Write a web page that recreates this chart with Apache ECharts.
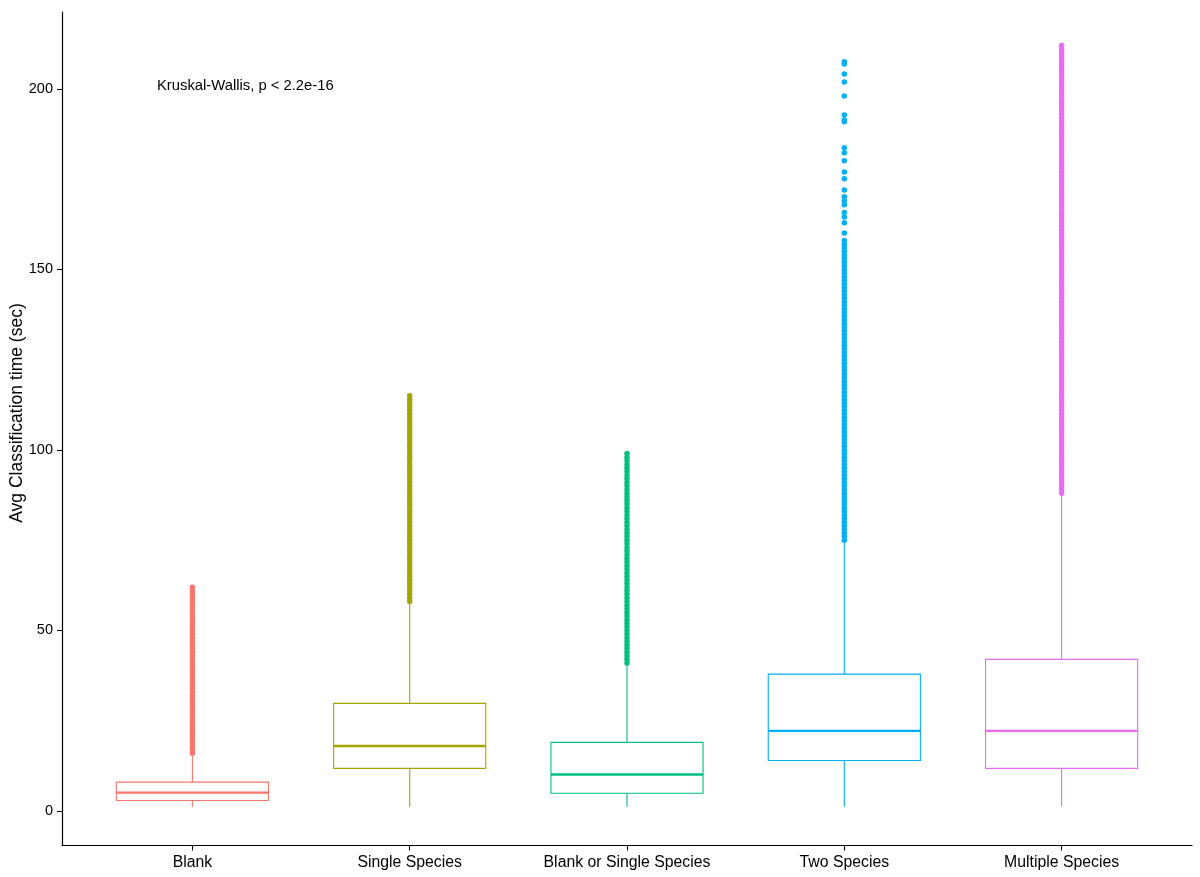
<!DOCTYPE html>
<html>
<head>
<meta charset="utf-8">
<script src="https://cdn.jsdelivr.net/npm/echarts@6/dist/echarts.min.js"></script>
<style>
html, body { margin: 0; padding: 0; background: #fff; }
#chart { width: 1200px; height: 877px; }
</style>
</head>
<body>
<div id="chart"></div>
<script>
// categories and box statistics
const categories = ['Blank', 'Single Species', 'Blank or Single Species', 'Two Species', 'Multiple Species'];
const lowerWhisker = [1.2, 1.2, 1.2, 1.2, 1.2];
const q1 = [2.9, 11.8, 4.9, 14.0, 11.8];
const median = [5.1, 18.0, 10.1, 22.2, 22.2];
const q3 = [8.0, 29.8, 19.0, 37.9, 42.0];
const upperWhisker = [15.2, 57.6, 40.5, 74.5, 87.5];
const yTicks = [0, 50, 100, 150, 200];
const colors = ['#F8766D', '#A3A500', '#00BF7D', '#00B0F6', '#E76BF3'];

// outliers
const outBlank = [16, 17, 18, 19, 20, 21, 22, 23, 24, 25, 26, 27, 28, 29, 30, 31, 32, 33, 34, 35,
  36, 37, 38, 39, 40, 41, 42, 43, 44, 45, 46, 47, 48, 49, 50, 51, 52, 53, 54, 55,
  56, 57, 58, 59, 60, 61, 62];
const outSingle = [58, 59, 60, 61, 62, 63, 64, 65, 66, 67, 68, 69, 70, 71, 72, 73, 74, 75, 76, 77,
  78, 79, 80, 81, 82, 83, 84, 85, 86, 87, 88, 89, 90, 91, 92, 93, 94, 95, 96, 97,
  98, 99, 100, 101, 102, 103, 104, 105, 106, 107, 108, 109, 110, 111, 112, 113, 114, 115];
const outBlankOrSingle = [41, 42, 43, 44, 45, 46, 47, 48, 49, 50, 51, 52, 53, 54, 55, 56, 57, 58, 59, 60,
  61, 62, 63, 64, 65, 66, 67, 68, 69, 70, 71, 72, 73, 74, 75, 76, 77, 78, 79, 80,
  81, 82, 83, 84, 85, 86, 87, 88, 89, 90, 91, 92, 93, 94, 95, 96, 97, 98, 99];
const outTwo = [75, 76, 77, 78, 79, 80, 81, 82, 83, 84, 85, 86, 87, 88, 89, 90, 91, 92, 93, 94,
  95, 96, 97, 98, 99, 100, 101, 102, 103, 104, 105, 106, 107, 108, 109, 110, 111, 112, 113, 114,
  115, 116, 117, 118, 119, 120, 121, 122, 123, 124, 125, 126, 127, 128, 129, 130, 131, 132, 133, 134,
  135, 136, 137, 138, 139, 140, 141, 142, 143, 144, 145, 146, 147, 148, 149, 150, 151, 152, 153, 154,
  155, 156, 157, 158, 160.1, 162.9, 164.5, 165.8, 167.9, 169.0, 170.1, 172.0, 175.1, 177.0,
  180.1, 182.3, 183.7, 190.9, 191.4, 192.8, 198.0, 201.9, 204.1, 206.9, 207.5];
const outMultiple = [88, 89, 90, 91, 92, 93, 94, 95, 96, 97, 98, 99, 100, 101, 102, 103, 104, 105, 106, 107,
  108, 109, 110, 111, 112, 113, 114, 115, 116, 117, 118, 119, 120, 121, 122, 123, 124, 125, 126, 127,
  128, 129, 130, 131, 132, 133, 134, 135, 136, 137, 138, 139, 140, 141, 142, 143, 144, 145, 146, 147,
  148, 149, 150, 151, 152, 153, 154, 155, 156, 157, 158, 159, 160, 161, 162, 163, 164, 165, 166, 167,
  168, 169, 170, 171, 172, 173, 174, 175, 176, 177, 178, 179, 180, 181, 182, 183, 184, 185, 186, 187,
  188, 189, 190, 191, 192, 193, 194, 195, 196, 197, 198, 199, 200, 201, 202, 203, 204, 205, 206, 207,
  208, 209, 210, 211, 212];
const outliers = [outBlank, outSingle, outBlankOrSingle, outTwo, outMultiple];

const FONT = 'Liberation Sans, Arial, sans-serif';
const boxWidth = 0.7;

const boxData = categories.map((c, i) => [i + 1, lowerWhisker[i], q1[i], median[i], q3[i], upperWhisker[i]]);

const renderBox = (params, api) => {
    const x = api.value(0);
    const lo = api.coord([x, api.value(1)]);
    const b = api.coord([x, api.value(2)]);
    const md = api.coord([x, api.value(3)]);
    const t = api.coord([x, api.value(4)]);
    const hi = api.coord([x, api.value(5)]);
    const left = api.coord([x - boxWidth / 2, 0])[0];
    const right = api.coord([x + boxWidth / 2, 0])[0];
    const c = colors[params.dataIndex];
    return {
        type: 'group',
        children: [
            {type: 'line', shape: {x1: lo[0], y1: lo[1], x2: b[0], y2: b[1]}, style: {stroke: c, lineWidth: 1.1}},
            {type: 'line', shape: {x1: t[0], y1: t[1], x2: hi[0], y2: hi[1]}, style: {stroke: c, lineWidth: 1.1}},
            {type: 'rect', shape: {x: left, y: t[1], width: right - left, height: b[1] - t[1]},
                style: {fill: '#fff', stroke: c, lineWidth: 1.1}},
            {type: 'line', shape: {x1: left, y1: md[1], x2: right, y2: md[1]}, style: {stroke: c, lineWidth: 2.3}}
        ]
    };
};

const pointSeries = outliers.map((vals, i) => ({
    type: 'scatter',
    symbol: 'circle',
    symbolSize: 5.5,
    itemStyle: {color: colors[i], opacity: 1},
    data: vals.map(v => [i + 1, v]),
    z: 3
}));

let myChart = echarts.init(document.getElementById('chart'));
myChart.setOption({
    animation: false,
    backgroundColor: '#fff',
    grid: {left: 62, right: 8, top: 12, bottom: 31.5},
    xAxis: {
        type: 'value',
        min: 0.4,
        max: 5.6,
        splitLine: {show: false},
        axisLine: {show: true, onZero: false, lineStyle: {color: '#000', width: 1.2}},
        axisTick: {show: true, length: 5, customValues: [1, 2, 3, 4, 5], lineStyle: {color: '#000', width: 1.1}},
        axisLabel: {
            customValues: [1, 2, 3, 4, 5],
            formatter: v => categories[Math.round(v) - 1],
            margin: 9,
            fontSize: 15.8,
            fontFamily: FONT,
            color: '#000'
        }
    },
    yAxis: {
        type: 'value',
        min: -9.56,
        max: 221.3,
        splitLine: {show: false},
        axisLine: {show: true, onZero: false, lineStyle: {color: '#000', width: 1.2}},
        axisTick: {show: true, length: 5, customValues: yTicks, lineStyle: {color: '#000', width: 1.1}},
        axisLabel: {
            customValues: yTicks,
            margin: 9,
            fontSize: 14.5,
            fontFamily: FONT,
            color: '#000'
        }
    },
    graphic: [
        {
            type: 'text', x: 17, y: 413, rotation: Math.PI / 2,
            style: {text: 'Avg Classification time (sec)', font: '17.5px ' + FONT, fill: '#000',
                align: 'center', verticalAlign: 'middle'}
        },
        {
            type: 'text', x: 157, y: 86,
            style: {text: 'Kruskal-Wallis, p < 2.2e-16', font: '14.8px ' + FONT, fill: '#000',
                align: 'left', verticalAlign: 'middle'}
        }
    ],
    series: [
        {type: 'custom', renderItem: renderBox, data: boxData, z: 2},
        ...pointSeries
    ]
});
window.addEventListener('resize', () => {
    myChart.resize();
});
</script>
</body>
</html>
